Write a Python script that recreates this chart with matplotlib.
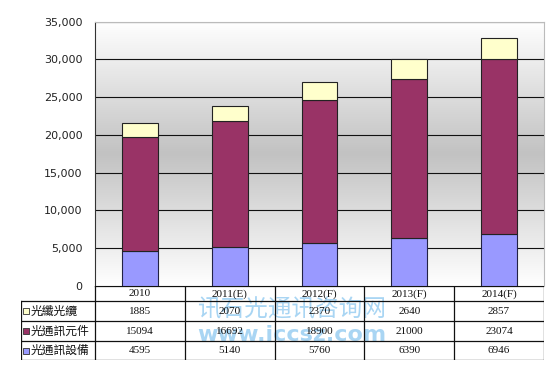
import numpy as np
import matplotlib
matplotlib.use("Agg")
import matplotlib.pyplot as plt
from matplotlib.colors import LinearSegmentedColormap
import matplotlib.ticker as mticker

years = ['2010', '2011(E)', '2012(F)', '2013(F)', '2014(F)']
equipment = [4595, 5140, 5760, 6390, 6946]        # 光通訊設備
components = [15094, 16692, 18900, 21000, 23074]  # 光通訊元件
fiber = [1885, 2070, 2370, 2640, 2857]            # 光纖光纜
series_names = ['光纖光纜', '光通訊元件', '光通訊設備']
series_colors = ['#FFFFCC', '#993366', '#9999FF']

W, H = 557, 381
fig = plt.figure(figsize=(W / 100, H / 100), dpi=100)
fig.patch.set_facecolor('white')

# main plot area (pixel positions -> figure fractions)
L, R, T, B = 95, 544, 21.7, 286
ax = fig.add_axes([L / W, 1 - B / H, (R - L) / W, (B - T) / H])

# grey gradient background: white top, grey middle, white bottom
cmap = LinearSegmentedColormap.from_list('bg', ['#FFFFFF', '#C2C2C2', '#FFFFFF'])
grad = np.linspace(0, 1, 256).reshape(-1, 1)
ax.imshow(grad, cmap=cmap, aspect='auto', extent=[-0.5, 4.5, 0, 35000],
          origin='upper', zorder=0)

x = np.arange(len(years))
w = 0.4
ax.bar(x, equipment, w, color=series_colors[2], edgecolor='#222244', lw=0.8, zorder=3)
ax.bar(x, components, w, bottom=equipment, color=series_colors[1],
       edgecolor='#222222', lw=0.8, zorder=3)
bot2 = np.array(equipment) + np.array(components)
ax.bar(x, fiber, w, bottom=bot2, color=series_colors[0], edgecolor='#222222', lw=0.8, zorder=3)

ax.set_xlim(-0.5, 4.5)
ax.set_ylim(0, 35000)
ax.set_yticks(np.arange(0, 35001, 5000))
ax.yaxis.set_major_formatter(mticker.FuncFormatter(lambda v, p: f'{int(v):,}'))
ax.yaxis.grid(True, color='#111111', lw=0.8, zorder=1)
ax.set_xticks([])
ax.tick_params(axis='y', length=0, pad=9, labelsize=8, labelcolor='#222222')
ax.spines['left'].set_color('#333333')
ax.spines['top'].set_color('#BBBBBB')
ax.spines['right'].set_color('#BBBBBB')
ax.spines['bottom'].set_visible(False)

# data table drawn below the plot, in pixel units
TL, TT, TB = 21, 286, 360
tab = fig.add_axes([TL / W, 1 - TB / H, (R - TL) / W, (TB - TT) / H])
tab.set_xlim(TL, R)
tab.set_ylim(TB, TT)
tab.axis('off')

col_edges = np.linspace(L, R, len(years) + 1)
row_edges = [286, 301, 321, 341, 360]
lc = '#111111'
# watermark behind the table contents
tab.text(292, 310, '讯石光通讯咨询网', ha='center', va='center',
         fontsize=17, color='#8CC8F0', alpha=0.75, zorder=0,
         family=['Noto Sans CJK SC', 'DejaVu Sans'])
tab.text(292, 335, 'www.iccsz.com', ha='center', va='center',
         fontsize=16, fontweight='bold', color='#8CC8F0', alpha=0.75, zorder=0,
         family='DejaVu Sans')
# horizontal lines
tab.plot([L, R], [row_edges[0]] * 2, color=lc, lw=0.9, zorder=2)
for yv in row_edges[1:]:
    tab.plot([TL, R], [yv, yv], color=lc, lw=0.9, zorder=2)
# vertical lines
tab.plot([TL, TL], [row_edges[1], row_edges[-1]], color=lc, lw=0.9, zorder=2)
for xv in col_edges:
    tab.plot([xv, xv], [row_edges[0], row_edges[-1]], color=lc, lw=0.9, zorder=2)

centers = (col_edges[:-1] + col_edges[1:]) / 2
for cx, yr in zip(centers, years):
    tab.text(cx, (row_edges[0] + row_edges[1]) / 2 + 0.5, yr, ha='center', va='center',
             fontsize=8, family='Liberation Serif', color='#111111', zorder=3)

rows = [fiber, components, equipment]
for i, (name, col, vals) in enumerate(zip(series_names, series_colors, rows)):
    yc = (row_edges[i + 1] + row_edges[i + 2]) / 2
    tab.scatter([26], [yc], marker='s', s=14, color=col, edgecolors='#333333',
                linewidths=0.6, zorder=3)
    tab.text(31, yc, name, ha='left', va='center', fontsize=8.5,
             family=['Noto Sans CJK TC', 'DejaVu Sans'], color='#111111', zorder=3)
    for cx, v in zip(centers, vals):
        tab.text(cx, yc, str(v), ha='center', va='center', fontsize=8,
                 family='Liberation Serif', color='#111111', zorder=3)

fig.savefig('out.png', dpi=100, facecolor='white')
